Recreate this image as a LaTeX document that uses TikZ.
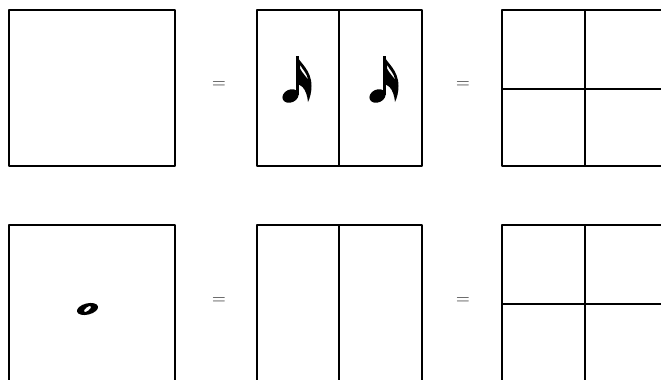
\documentclass[tikz,border=0pt]{standalone}
\begin{document}
\begin{tikzpicture}[x=1pt,y=-1pt,
  cell/.style={draw=black,line width=1.6pt,line join=round},
  grid/.style={draw=black,line width=1.4pt},
  eq/.style={font=\fontsize{19}{19}\selectfont,inner sep=0pt,text=black!85}]
\useasboundingbox (0,0) rectangle (661,380);
\begin{scope}
\clip (0,0) rectangle (661,380);
% top row
\draw[cell] (9,10) rectangle (175,166);
\draw[cell] (257,10) rectangle (422,166);
\draw[grid] (339,10) -- (339,166);
\draw[cell] (502,10) rectangle (668,166);
\draw[grid] (585,10) -- (585,166);
\draw[grid] (502,89) -- (668,89);
% bottom row
\draw[cell] (9,225) rectangle (175,391);
\draw[cell] (257,225) rectangle (422,391);
\draw[grid] (339,225) -- (339,391);
\draw[cell] (502,225) rectangle (668,391);
\draw[grid] (585,225) -- (585,391);
\draw[grid] (502,304) -- (668,304);
\end{scope}
% equal signs
\node[eq] (e1) at (219,85) {=};
\node[eq] (e2) at (463,85) {=};
\node[eq] (e3) at (219,301) {=};
\node[eq] (e4) at (463,301) {=};
% sixteenth notes
\foreach \dx in {0,87}{
  \begin{scope}[xshift=\dx]
    \fill (290.5,96) ellipse [x radius=8.4pt, y radius=6.4pt, rotate=25];
    \fill (296.4,56) rectangle (299.2,95);
    \fill[even odd rule] (297,56) .. controls (300,63) and (311.5,70) .. (311.5,86)
        .. controls (311.5,92) and (310,98) .. (308,102)
        .. controls (307.5,96) and (305.5,90) .. (302.5,87)
        .. controls (301,85.5) and (299.5,85) .. (298,84) -- cycle
        (300,64.5) .. controls (302.5,70) and (307,72.5) .. (308,80)
        .. controls (306,76) and (302.5,73.5) .. (300,68.5) -- cycle;
  \end{scope}
}
% whole note
\fill[even odd rule] (87.5,309) ellipse [x radius=10.8pt, y radius=5.6pt, rotate=14]
  (87.5,309) ellipse [x radius=4.3pt, y radius=1.8pt, rotate=38];
\end{tikzpicture}
\end{document}
